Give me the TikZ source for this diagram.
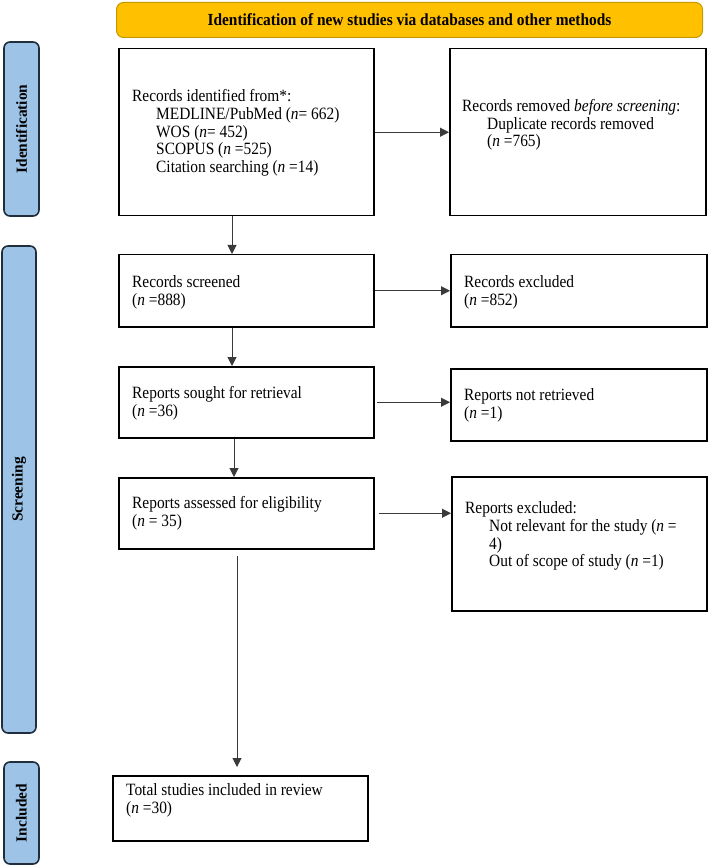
\documentclass[tikz,border=0pt]{standalone}
\usepackage{fontspec}
\usepackage{graphicx}
\setmainfont{Liberation Serif}
\usetikzlibrary{arrows.meta}
\definecolor{gold}{HTML}{FFC000}
\definecolor{goldedge}{HTML}{C49A00}
\definecolor{sideblue}{HTML}{9DC3E6}
\definecolor{sideedge}{HTML}{1F2D3D}
\definecolor{linec}{HTML}{3A3A3A}
\begin{document}
\begin{tikzpicture}[x=1pt,y=-1pt,
  every node/.style={font=\fontsize{15.4pt}{17.8pt}\selectfont},
  box/.style={draw=black, line width=1.5pt, rectangle, inner sep=0pt, anchor=north west},
  txt/.style={anchor=west, align=left, inner sep=0pt, yscale=1.12, font=\fontsize{15.4pt}{15.85pt}\selectfont},
  side/.style={draw=sideedge, fill=sideblue, line width=1.6pt, rounded corners=6pt, inner sep=0pt},
  arr/.style={draw=linec, line width=1pt, -{Triangle[length=9pt,width=9pt]}},
]
\useasboundingbox (0,0) rectangle (709,866);

% banner
\node[draw=goldedge, fill=gold, line width=1pt, rounded corners=7pt, minimum width=586pt, minimum height=35pt, anchor=north west, inner sep=0pt] (ban) at (116,2) {\scalebox{1}[1.1]{\bfseries Identification of new studies via databases and other methods}};

% side bars
\node[side, rotate=90, minimum width=174pt, minimum height=35pt] (sid) at (21.5,129) {\bfseries Identification};
\node[side, rotate=90, minimum width=487pt, minimum height=34pt] (ssc) at (19,489.5) {\bfseries Screening};
\node[side, rotate=90, minimum width=102pt, minimum height=35pt] (sin) at (21.5,813) {\bfseries Included};

% boxes
\node[box, minimum width=255pt, minimum height=167pt] (A) at (118,48) {};
\node[box, minimum width=256pt, minimum height=167pt] (B) at (449,48) {};
\node[box, minimum width=255pt, minimum height=72pt] (S) at (118,254) {};
\node[box, minimum width=256pt, minimum height=72pt] (E) at (450,254) {};
\node[box, minimum width=255pt, minimum height=71pt] (R) at (118,366) {};
\node[box, minimum width=256pt, minimum height=72pt] (NR) at (450,368) {};
\node[box, minimum width=255pt, minimum height=71pt] (AS) at (118,477) {};
\node[box, minimum width=255pt, minimum height=134pt] (RE) at (451,476) {};
\node[box, minimum width=255pt, minimum height=65pt] (T) at (112,775) {};

% texts
\node[txt] (At) at (132,133) {Records identified from*:\\
\hspace*{24pt}MEDLINE/PubMed (\textit{n}= 662)\\
\hspace*{24pt}WOS (\textit{n}= 452)\\
\hspace*{24pt}SCOPUS (\textit{n} =525)\\
\hspace*{24pt}Citation searching (\textit{n} =14)};
\node[txt] (Bt) at (462,125) {Records removed \textit{before screening}:\\
\hspace*{25pt}Duplicate records removed\\
\hspace*{25pt}(\textit{n} =765)};
\node[txt] (St) at (132,292) {Records screened\\(\textit{n} =888)};
\node[txt] (Et) at (464,292) {Records excluded\\(\textit{n} =852)};
\node[txt] (Rt) at (132,403.5) {Reports sought for retrieval\\(\textit{n} =36)};
\node[txt] (NRt) at (464,405.5) {Reports not retrieved\\(\textit{n} =1)};
\node[txt] (ASt) at (132,513.5) {Reports assessed for eligibility\\(\textit{n} = 35)};
\node[txt] (REt) at (465,536) {Reports excluded:\\
\hspace*{24pt}Not relevant for the study (\textit{n} =\\
\hspace*{24pt}4)\\
\hspace*{24pt}Out of scope of study (\textit{n} =1)};
\node[txt] (Tt) at (126,800.5) {Total studies included in review\\(\textit{n} =30)};

% connectors
\coordinate (v1) at (232,0);
\coordinate (v2) at (234,0);
\coordinate (v3) at (237,0);
\draw[arr] (A) -- (B);
\draw[arr] (A.south -| v1) -- (S.north -| v1);
\draw[arr] (S.south -| v1) -- (R.north -| v1);
\draw[arr] (R.south -| v2) -- (AS.north -| v2);
\draw[arr, shorten <=6pt, shorten >=8pt] (AS.south -| v3) -- (T.north -| v3);
\draw[arr] (S) -- (E);
\draw[arr, shorten <=2pt] (R.east) -- (NR.west |- R.east);
\draw[arr, shorten <=4pt] (AS.east) -- (RE.west |- AS.east);
\end{tikzpicture}
\end{document}
